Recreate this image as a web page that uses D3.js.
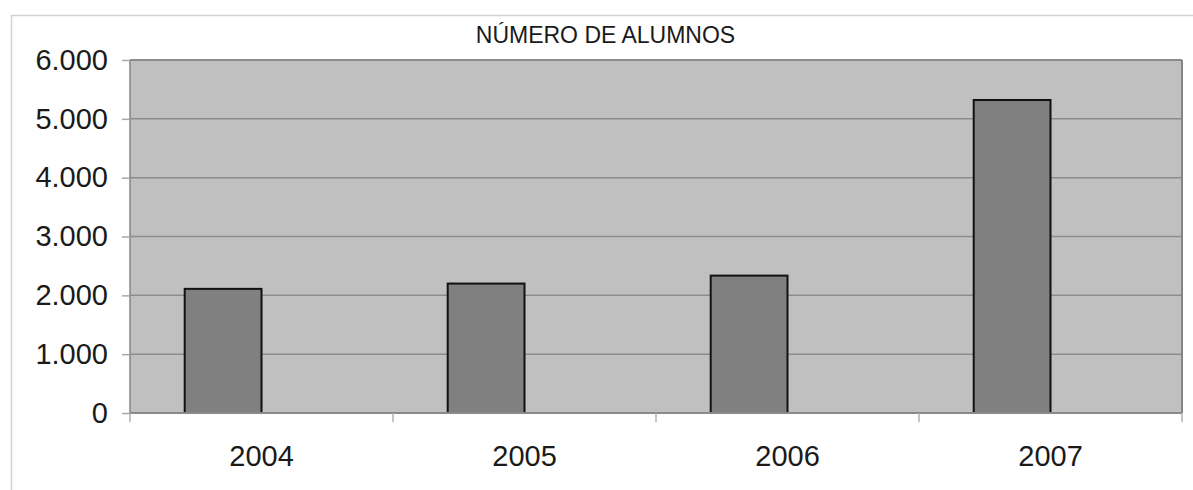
<!DOCTYPE html>
<html>
<head>
<meta charset="utf-8">
<script src="https://cdn.jsdelivr.net/npm/d3@7"></script>
<style>
  html, body { margin: 0; padding: 0; background: #fff; }
  svg { display: block; }
  text { font-family: "Liberation Sans", Arial, sans-serif; fill: #1a1a1a; }
</style>
</head>
<body>
<svg id="chart" width="1193" height="490"></svg>
<script>
// Número de alumnos por año
const years = ["2004", "2005", "2006", "2007"];
const alumnos = [2110, 2200, 2335, 5320];
const yTicks = [0, 1000, 2000, 3000, 4000, 5000, 6000];
const title = "NÚMERO DE ALUMNOS";

const W = 1193, H = 490;
const frame = { left: 11, top: 15, right: 1200, bottom: 500 };
const plot = { left: 130, top: 60, right: 1182, bottom: 413 };

const es = d3.formatLocale({ decimal: ",", thousands: ".", grouping: [3], currency: ["", " €"] });
const fmt = es.format(",d");

const svg = d3.select("#chart");

// chart frame
svg.append("rect")
  .attr("x", frame.left + 0.5).attr("y", frame.top + 0.5)
  .attr("width", frame.right - frame.left).attr("height", frame.bottom - frame.top)
  .attr("fill", "#fff").attr("stroke", "#d2d2d2").attr("stroke-width", 1.5);

const x = d3.scaleBand().domain(years).range([plot.left, plot.right]).padding(0);
const y = d3.scaleLinear().domain([0, 6000]).range([plot.bottom, plot.top]);

// plot background
svg.append("rect")
  .attr("x", plot.left).attr("y", plot.top)
  .attr("width", plot.right - plot.left).attr("height", plot.bottom - plot.top)
  .attr("fill", "#c0c0c0");

// horizontal gridlines
svg.append("g")
  .selectAll("line").data(yTicks.filter(d => d > 0)).join("line")
  .attr("x1", plot.left).attr("x2", plot.right)
  .attr("y1", d => y(d)).attr("y2", d => y(d))
  .attr("stroke", "#8c8c8c").attr("stroke-width", 1.5);

// plot border (left, right)
svg.append("line")
  .attr("x1", plot.left).attr("x2", plot.left)
  .attr("y1", plot.top).attr("y2", plot.bottom)
  .attr("stroke", "#858585").attr("stroke-width", 1.5);
svg.append("line")
  .attr("x1", plot.right).attr("x2", plot.right)
  .attr("y1", plot.top).attr("y2", plot.bottom)
  .attr("stroke", "#858585").attr("stroke-width", 2);

// bars: each sits in the left half of the centred pair of slots
const barW = x.bandwidth() * 0.292;
svg.append("g")
  .selectAll("rect").data(years).join("rect")
  .attr("x", d => x(d) + x.bandwidth() / 2 - barW)
  .attr("y", (d, i) => y(alumnos[i]))
  .attr("width", barW)
  .attr("height", (d, i) => y(0) - y(alumnos[i]))
  .attr("fill", "#808080")
  .attr("stroke", "#111").attr("stroke-width", 2);

// y axis
const yAxis = d3.axisLeft(y).tickValues(yTicks).tickFormat(fmt).tickSize(8).tickPadding(14);
const gy = svg.append("g").attr("transform", `translate(${plot.left},0)`).call(yAxis);
gy.select(".domain").remove();
gy.selectAll(".tick line").attr("stroke", "#a8a8a8").attr("stroke-width", 1.5);
gy.selectAll(".tick text")
  .attr("font-size", 29).attr("font-family", "Liberation Sans, Arial, sans-serif")
  .attr("fill", "#1a1a1a");

// x axis
const xAxis = d3.axisBottom(x).tickSize(0).tickPadding(0);
const gx = svg.append("g").attr("transform", `translate(0,${plot.bottom})`).call(xAxis);
gx.select(".domain").attr("stroke", "#8a8a8a").attr("stroke-width", 2)
  .attr("d", `M${plot.left},0H${plot.right}`);
gx.selectAll(".tick text")
  .attr("y", 53).attr("dy", 0)
  .attr("font-size", 29).attr("font-family", "Liberation Sans, Arial, sans-serif")
  .attr("fill", "#1a1a1a");

// category separator ticks at band edges
const edges = years.map(d => x(d)).concat([plot.right]);
svg.append("g")
  .selectAll("line").data(edges).join("line")
  .attr("x1", d => d).attr("x2", d => d)
  .attr("y1", plot.bottom).attr("y2", plot.bottom + 9)
  .attr("stroke", "#b0b0b0").attr("stroke-width", 1.5);

// top border of the plot
svg.append("line")
  .attr("x1", plot.left).attr("x2", plot.right)
  .attr("y1", plot.top).attr("y2", plot.top)
  .attr("stroke", "#858585").attr("stroke-width", 1.5);

// title
svg.append("text")
  .attr("x", (frame.left + frame.right) / 2).attr("y", 43)
  .attr("text-anchor", "middle")
  .attr("font-size", 23)
  .text(title);
</script>
</body>
</html>
